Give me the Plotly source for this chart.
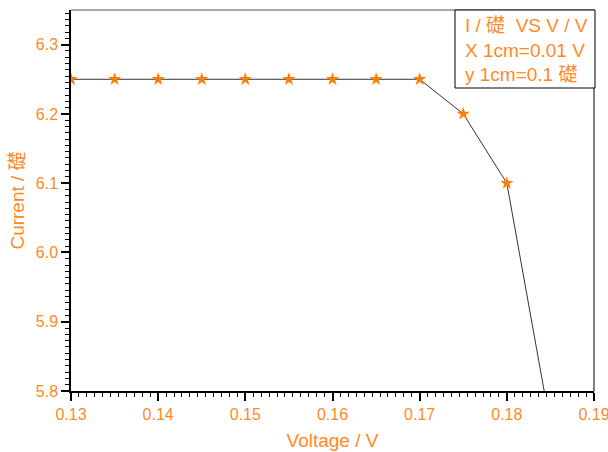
import plotly.graph_objects as go

voltage = [0.13, 0.135, 0.14, 0.145, 0.15, 0.155, 0.16, 0.165, 0.17, 0.175, 0.18, 0.185]
current = [6.25, 6.25, 6.25, 6.25, 6.25, 6.25, 6.25, 6.25, 6.25, 6.2, 6.1, 5.75]
x_ticks = [0.13, 0.14, 0.15, 0.16, 0.17, 0.18, 0.19]
y_ticks = [5.8, 5.9, 6.0, 6.1, 6.2, 6.3]
legend_lines = ["I / 礎\u00a0\u00a0VS V / V", "X 1cm=0.01 V", "y 1cm=0.1 礎"]

ORANGE = "#FF8000"
TXT = "#FF8A1F"
FONT = "Liberation Sans, Arial, Noto Sans CJK SC, sans-serif"

fig = go.Figure()
fig.add_trace(go.Scatter(
    x=voltage, y=current, mode="lines+markers",
    line=dict(color="#333333", width=1),
    marker=dict(symbol="star", size=10, color=ORANGE, line=dict(width=0)),
    showlegend=False,
))

axis_common = dict(
    showgrid=False, zeroline=False, showline=True, linecolor="black", linewidth=1.5,
    ticks="outside", ticklen=8, tickwidth=1.5, tickcolor="black",
    tickfont=dict(family=FONT, size=16, color=TXT),
    ticklabeloverflow="allow",
)

fig.update_xaxes(
    range=[0.13, 0.19000001], tickvals=x_ticks, ticktext=[f"{v:.2f}" for v in x_ticks],
    title=dict(text="Voltage / V", font=dict(family=FONT, size=19, color=TXT), standoff=12),
    minor=dict(ticks="outside", ticklen=4, tickwidth=1, tickcolor="black", tick0=0.13, dtick=0.01 / 11),
    **axis_common,
)
fig.update_yaxes(
    range=[5.8, 6.35], tickvals=y_ticks, ticktext=[f"{v:.1f}" for v in y_ticks],
    title=dict(text="Current / 礎", font=dict(family=FONT, size=19, color=TXT), standoff=6),
    minor=dict(ticks="outside", ticklen=4, tickwidth=1, tickcolor="black", tick0=5.8, dtick=0.1 / 11),
    **axis_common,
)

fig.add_shape(type="line", xref="paper", yref="paper", x0=0, x1=1, y0=1, y1=1,
              line=dict(color="#555555", width=1))
fig.add_shape(type="line", xref="paper", yref="paper", x0=1, x1=1, y0=0, y1=1,
              line=dict(color="black", width=1))

# legend box
fig.add_shape(type="rect", xref="paper", yref="paper",
              x0=(455 - 71) / 523, x1=(595 - 71) / 523, y0=(391 - 88) / 381, y1=1.0,
              line=dict(color="black", width=1), fillcolor="white", layer="above")
fig.add_annotation(
    xref="paper", yref="paper", x=(464 - 71) / 523, y=1.0, xanchor="left", yanchor="top",
    yshift=-4,
    text="<br>".join(legend_lines), align="left", showarrow=False,
    font=dict(family=FONT, size=19, color=TXT), borderpad=0,
)

fig.update_layout(
    width=608, height=452,
    margin=dict(l=71, r=14, t=10, b=61, autoexpand=False),
    plot_bgcolor="white", paper_bgcolor="white",
    font=dict(family=FONT),
)

fig.write_html("out.html")
